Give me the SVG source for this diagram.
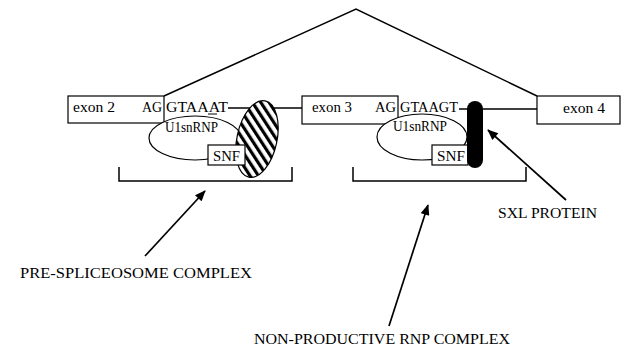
<svg xmlns="http://www.w3.org/2000/svg" width="630" height="352" viewBox="0 0 630 352">
<defs>
<pattern id="hatch" patternUnits="userSpaceOnUse" width="7" height="7" patternTransform="rotate(-45)">
<rect width="7" height="7" fill="#fff"/>
<rect width="3.2" height="7" fill="#000"/>
</pattern>
<marker id="ah" viewBox="0 0 12 10" refX="11" refY="5" markerWidth="12" markerHeight="9" markerUnits="userSpaceOnUse" orient="auto">
<path d="M0,0 L12,5 L0,10 z" fill="#000"/>
</marker>
</defs>
<style>
.box{fill:#fff;stroke:#000;stroke-width:1.2}
.ln{fill:none;stroke:#000;stroke-width:1.5}
.t{font-family:"Liberation Serif","DejaVu Serif",serif;font-size:15px;fill:#000}
.lab{font-family:"Liberation Serif","DejaVu Serif",serif;font-size:15.5px;fill:#000}
.arr{fill:none;stroke:#000;stroke-width:1.7;marker-end:url(#ah)}
</style>
<rect width="630" height="352" fill="#fff"/>
<g id="connectors">
<polyline class="ln" points="164,96 356,9 537,96"/>
<line class="ln" x1="228" y1="108" x2="302" y2="108"/>
<line class="ln" x1="459" y1="109" x2="537" y2="109"/>
<polyline class="ln" points="119,167 119,181 292,181 292,167"/>
<polyline class="ln" points="353,167 353,181 526,181 526,167"/>
<line class="arr" x1="145" y1="256" x2="205" y2="191"/>
<line class="arr" x1="389" y1="326" x2="428" y2="205"/>
<line class="arr" x1="566" y1="200" x2="488" y2="130"/>
</g>
<g id="exon2">
<rect class="box" x="68" y="96" width="96" height="27"/>
<text class="t" x="73" y="112" textLength="42" lengthAdjust="spacingAndGlyphs">exon  2</text>
<text class="t" x="142" y="112" textLength="20" lengthAdjust="spacingAndGlyphs">AG</text>
</g>
<g id="seq1">
<text class="t" x="166" y="112" textLength="62" lengthAdjust="spacingAndGlyphs">GTAAAT</text>
<line x1="208" y1="114" x2="217" y2="114" stroke="#000" stroke-width="1"/>
</g>
<g id="u1snrnp1">
<ellipse class="box" cx="195" cy="138" rx="46" ry="22"/>
<text class="t" x="165" y="132" textLength="53" lengthAdjust="spacingAndGlyphs">U1snRNP</text>
</g>
<g id="hatched">
<ellipse cx="257" cy="139" rx="20" ry="39" fill="url(#hatch)" stroke="#000" stroke-width="1.2" transform="rotate(12 257 139)"/>
</g>
<g id="snf1">
<rect class="box" x="208" y="145" width="37" height="20"/>
<text class="t" x="213" y="160.5" textLength="27" lengthAdjust="spacingAndGlyphs">SNF</text>
</g>
<g id="exon3">
<rect class="box" x="302" y="96" width="96" height="28"/>
<text class="t" x="312" y="112" textLength="40" lengthAdjust="spacingAndGlyphs">exon 3</text>
<text class="t" x="375" y="112" textLength="21" lengthAdjust="spacingAndGlyphs">AG</text>
</g>
<g id="seq2">
<text class="t" x="400" y="112" textLength="58" lengthAdjust="spacingAndGlyphs">GTAAGT</text>
</g>
<g id="u1snrnp2">
<ellipse class="box" cx="422" cy="137" rx="45" ry="23"/>
<text class="t" x="393" y="131" textLength="54" lengthAdjust="spacingAndGlyphs">U1snRNP</text>
</g>
<g id="snf2">
<rect class="box" x="432" y="145" width="36" height="20"/>
<text class="t" x="437" y="160.5" textLength="28" lengthAdjust="spacingAndGlyphs">SNF</text>
</g>
<g id="sxl">
<rect x="467" y="101" width="16" height="67" rx="8" ry="8" fill="#000"/>
</g>
<g id="exon4">
<rect class="box" x="537" y="96" width="83" height="28"/>
<text class="t" x="563" y="113" textLength="42" lengthAdjust="spacingAndGlyphs">exon 4</text>
</g>
<g id="labels">
<text class="lab" x="498" y="218" textLength="99" lengthAdjust="spacingAndGlyphs">SXL PROTEIN</text>
<text class="lab" x="20" y="278" textLength="232" lengthAdjust="spacingAndGlyphs">PRE-SPLICEOSOME COMPLEX</text>
<text class="lab" x="254" y="344" textLength="256" lengthAdjust="spacingAndGlyphs">NON-PRODUCTIVE RNP COMPLEX</text>
</g>
</svg>
